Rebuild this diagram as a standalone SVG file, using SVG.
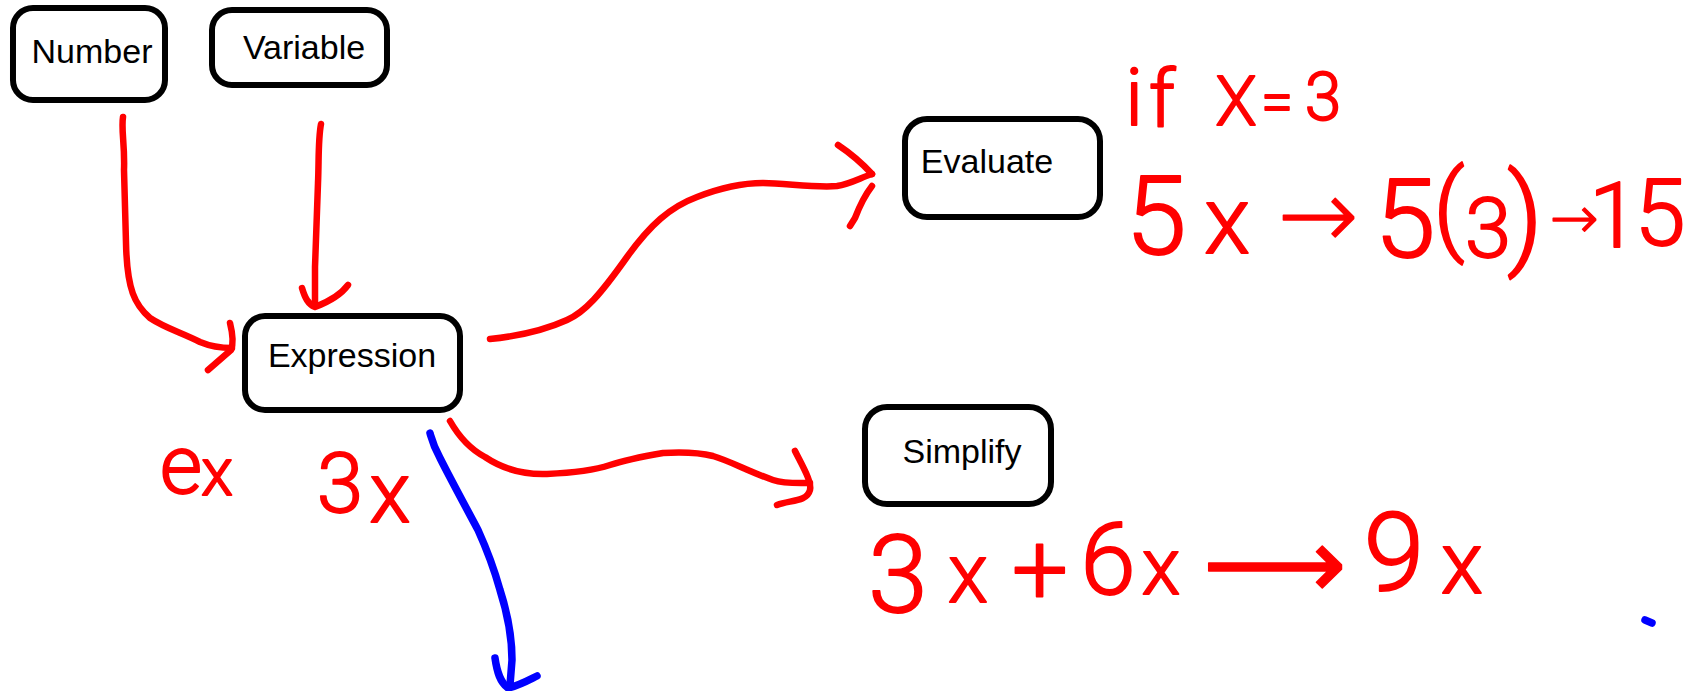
<svg xmlns="http://www.w3.org/2000/svg" width="1706" height="691" viewBox="0 0 1706 691">
<style>
.box{fill:#fff;stroke:#000;stroke-width:6}
.lbl{font-family:"Liberation Sans",Arial,sans-serif;font-size:34px;fill:#000}
.red{fill:none;stroke:#ff0000;stroke-width:6.5;stroke-linecap:round;stroke-linejoin:round}
.blue{fill:none;stroke:#0000ff;stroke-width:7.5;stroke-linecap:round;stroke-linejoin:round}
.hw{font-family:Roboto,"Noto Sans",sans-serif;font-weight:300;fill:#ff0000;stroke:#ff0000;stroke-width:1.8;stroke-linejoin:round;text-anchor:middle}
.arr{font-family:"Noto Sans","DejaVu Sans",sans-serif;stroke-width:1.5}
</style>
<rect width="1706" height="691" fill="#fff"/>
<g id="connectors">
<path class="red" d="M123,117 C121,130 125,145 124,170 L126,243 C127,290 135,305 150,318 C165,328 180,332 200,342 C212,347 222,348 232,348"/>
<path class="red" d="M230,323 C233,335 233,345 231,350 L208,370"/>
<path class="red" d="M321,124 C318,140 319,160 318,183 L315,267 L315,303"/>
<path class="red" d="M302,288 C305,298 308,304 315,307 C328,302 340,296 348,285"/>
<path class="red" d="M490,339 C520,336 545,330 567,320 C585,312 600,295 627,257 C650,225 670,207 697,197 C720,188 745,183 763,183 C785,183 815,188 837,186 C850,184 860,178 872,174"/>
<path class="red" d="M838,145 C850,153 860,161 872,174"/>
<path class="red" d="M872,186 C865,195 860,205 855,218 L850,226"/>
<path class="red" d="M450,421 C458,435 468,448 485,457 C500,467 520,475 547,474 C570,473 595,470 610,465 C625,460 640,457 663,453 C680,452 697,452 713,456 C730,461 750,472 773,480 C785,484 800,483 810,483"/>
<path class="red" d="M795,451 C803,467 812,482 810,490 C807,502 790,500 777,505"/>
<path class="blue" d="M430,433 C432,440 433,445 440,458 C450,478 462,500 478,530 C488,552 495,572 500,590 C508,615 512,635 512,660 L510,685"/>
<path class="blue" d="M495,658 C497,672 500,682 508,688 C518,686 527,681 537,676"/>
<path class="blue" d="M1645,620 L1652,623"/>
</g>
<g id="number"><rect class="box" x="13" y="8" width="152" height="92" rx="20"/><text class="lbl" x="92" y="63" text-anchor="middle">Number</text></g>
<g id="variable"><rect class="box" x="212" y="10" width="175" height="75" rx="20"/><text class="lbl" x="304" y="59" text-anchor="middle">Variable</text></g>
<g id="expression"><rect class="box" x="245" y="316" width="215" height="94" rx="20"/><text class="lbl" x="352" y="367" text-anchor="middle">Expression</text></g>
<g id="evaluate"><rect class="box" x="905" y="119" width="195" height="98" rx="22"/><text class="lbl" x="987" y="173" text-anchor="middle">Evaluate</text></g>
<g id="simplify"><rect class="box" x="865" y="407" width="186" height="97" rx="22"/><text class="lbl" x="962" y="463" text-anchor="middle">Simplify</text></g>
<g id="notes">
<text class="hw"><tspan x="1134" y="125" font-size="79">i</tspan><tspan x="1162" y="126" font-size="80">f</tspan><tspan x="1236" y="125" font-size="68">X</tspan><tspan x="1277" y="122" font-size="58">=</tspan><tspan x="1323" y="120" font-size="66">3</tspan></text>
<text class="hw"><tspan x="1156" y="254" font-size="110">5</tspan><tspan x="1227" y="253" font-size="95">x</tspan><tspan class="arr" x="1318" y="248" font-size="96">→</tspan><tspan x="1405" y="257" font-size="110">5</tspan><tspan x="1449" y="242" font-size="100">(</tspan><tspan x="1488" y="257" font-size="84">3</tspan><tspan x="1525" y="254" font-size="112">)</tspan><tspan class="arr" x="1574" y="238" font-size="58">→</tspan><tspan x="1614" y="247" font-size="90">1</tspan><tspan x="1660" y="245" font-size="92">5</tspan></text>
<text class="hw"><tspan x="181" y="493" font-size="82">e</tspan><tspan x="217" y="495" font-size="66">x</tspan></text>
<text class="hw"><tspan x="340" y="512" font-size="84">3</tspan><tspan x="390" y="522" font-size="85">x</tspan></text>
<text class="hw"><tspan x="898" y="612" font-size="108">3</tspan><tspan x="968" y="602" font-size="83">x</tspan><tspan x="1040" y="604" font-size="100">+</tspan><tspan x="1108" y="594" font-size="100">6</tspan><tspan x="1161" y="594" font-size="80">x</tspan><tspan class="arr" x="1274" y="598" font-size="100">⟶</tspan><tspan x="1394" y="590" font-size="110">9</tspan><tspan x="1462" y="593" font-size="87">x</tspan></text>
</g>
</svg>
